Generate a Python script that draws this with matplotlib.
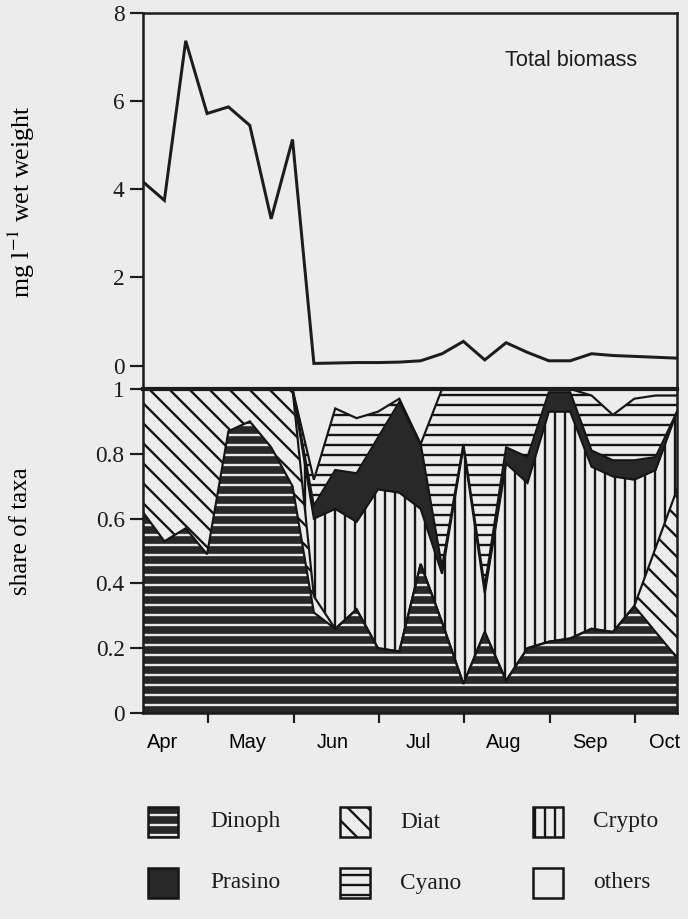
import numpy as np
import matplotlib
matplotlib.use("Agg")
import matplotlib.pyplot as plt
from matplotlib.patches import Rectangle

# ---------------- data ----------------
samples = list(range(26))  # weekly samples, April - October
biomass = [4.17, 3.75, 7.37, 5.72, 5.87, 5.45, 3.33, 5.13, 0.05, 0.06, 0.07, 0.07, 0.08,
           0.11, 0.27, 0.55, 0.13, 0.52, 0.30, 0.11, 0.11, 0.27, 0.23, 0.21, 0.19, 0.17]

dinoph  = [0.62, 0.53, 0.57, 0.49, 0.87, 0.90, 0.82, 0.70, 0.31, 0.26, 0.32, 0.20, 0.19,
           0.46, 0.28, 0.09, 0.25, 0.10, 0.20, 0.22, 0.23, 0.26, 0.25, 0.33, 0.25, 0.17]
diat    = [0.38, 0.47, 0.43, 0.51, 0.13, 0.10, 0.18, 0.30, 0.05, 0.00, 0.00, 0.00, 0.00,
           0.00, 0.00, 0.00, 0.00, 0.00, 0.00, 0.00, 0.00, 0.00, 0.00, 0.00, 0.26, 0.52]
crypto  = [0.00, 0.00, 0.00, 0.00, 0.00, 0.00, 0.00, 0.00, 0.24, 0.37, 0.27, 0.49, 0.49,
           0.17, 0.15, 0.73, 0.12, 0.67, 0.51, 0.71, 0.70, 0.50, 0.48, 0.39, 0.24, 0.24]
prasino = [0.00, 0.00, 0.00, 0.00, 0.00, 0.00, 0.00, 0.00, 0.04, 0.12, 0.15, 0.16, 0.28,
           0.20, 0.02, 0.01, 0.02, 0.05, 0.08, 0.06, 0.06, 0.05, 0.05, 0.06, 0.04, 0.00]
cyano   = [0.00, 0.00, 0.00, 0.00, 0.00, 0.00, 0.00, 0.00, 0.08, 0.19, 0.17, 0.08, 0.01,
           0.00, 0.55, 0.17, 0.61, 0.18, 0.21, 0.01, 0.01, 0.17, 0.14, 0.19, 0.19, 0.05]
others  = [0.00, 0.00, 0.00, 0.00, 0.00, 0.00, 0.00, 0.00, 0.28, 0.06, 0.09, 0.07, 0.03,
           0.17, 0.00, 0.00, 0.00, 0.00, 0.00, 0.00, 0.00, 0.02, 0.08, 0.03, 0.02, 0.02]

taxa = ["Dinoph", "Diat", "Crypto", "Prasino", "Cyano", "others"]
months = ["Apr", "May", "Jun", "Jul", "Aug", "Sep", "Oct"]
biomass_ticks = [0, 2, 4, 6, 8]
share_ticks = [0, 0.2, 0.4, 0.6, 0.8, 1]

# ---------------- style ----------------
BG = "#ececec"
DARK = "#282828"
SERIF = ["Liberation Serif", "DejaVu Serif"]
SANS = ["Liberation Sans", "DejaVu Sans"]
plt.rcParams["hatch.linewidth"] = 1.4
plt.rcParams["mathtext.fontset"] = "stix"

W, H, DPI = 688, 919, 120
fig = plt.figure(figsize=(W / DPI, H / DPI), dpi=DPI, facecolor=BG)

def fx(px):
    return px / W

def fy(py):
    return 1 - py / H

left, right = fx(143), fx(677)
ax1 = fig.add_axes([left, fy(389), right - left, fy(13) - fy(389)], facecolor=BG)
ax2 = fig.add_axes([left, fy(713), right - left, fy(389) - fy(713)], facecolor=BG, sharex=ax1)

# upper: total biomass
ax1.plot(samples, biomass, color="#1c1c1c", lw=1.8, solid_joinstyle="miter")
ax1.set_ylim(-0.53, 8)
ax1.set_xlim(samples[0], samples[-1])
ax1.set_yticks(biomass_ticks)
ax1.set_yticklabels([str(t) for t in biomass_ticks], family=SERIF, fontsize=14)
ax1.tick_params(axis="x", bottom=False, labelbottom=False)
ax1.tick_params(axis="y", direction="out", length=8, width=1.3, pad=3, colors="#1c1c1c")
ax1.text(0.925, 0.875, "Total biomass", transform=ax1.transAxes, ha="right", va="center",
         family=SANS, fontsize=13, color="#1c1c1c")

# lower: share of taxa
fills = [DARK, BG, BG, DARK, BG, BG]
hatches = ["--", "\\\\", "||", None, "--", None]
hcolors = ["#e6e6e6", "#151515", "#151515", DARK, "#151515", BG]
series = [dinoph, diat, crypto, prasino, cyano, others]
polys = ax2.stackplot(samples, *series, colors=fills, hatch=hatches, labels=taxa)
for p, hc in zip(polys, hcolors):
    p.set_edgecolor(hc)
    p.set_linewidth(0)
cum = np.cumsum(np.array(series), axis=0)
for row in cum[:-1]:
    ax2.plot(samples, row, color="#151515", lw=1.3, solid_joinstyle="miter")

ax2.set_ylim(0, 1)
ax2.set_yticks(share_ticks)
ax2.set_yticklabels([f"{t:g}" for t in share_ticks], family=SERIF, fontsize=14)
ax2.tick_params(axis="y", direction="out", length=8, width=1.3, pad=3, colors="#1c1c1c")

month_bounds = [3.05 + 4 * i for i in range(6)]
label_pos = [0.9 + 4 * i for i in range(6)] + [24.4]
ax2.set_xticks(month_bounds)
ax2.set_xticklabels([])
ax2.tick_params(axis="x", which="major", direction="out", length=6, width=1.3, colors="#1c1c1c")
ax2.set_xticks(label_pos, minor=True)
ax2.set_xticklabels(months, minor=True, family=SANS, fontsize=12)
ax2.tick_params(axis="x", which="minor", length=0, pad=12)

for ax in (ax1, ax2):
    for s in ax.spines.values():
        s.set_linewidth(1.5)
        s.set_color("#1c1c1c")
ax2.spines["top"].set_linewidth(2.5)

fig.text(fx(21), fy(202), r"mg l$^{-1}$ wet weight", rotation=90, ha="center", va="center",
         family=SERIF, fontsize=15.5)
fig.text(fx(21), fy(531), "share of taxa", rotation=90, ha="center", va="center",
         family=SERIF, fontsize=15)

# legend (manually laid out, 2 rows x 3 columns)
box_x = [148, 340, 533]
text_x = [210, 400, 593]
row_y = [822, 883]
box = 30
for i, name in enumerate(taxa):
    r, c = divmod(i, 3)
    x0, yc = box_x[c], row_y[r]
    patch = Rectangle((fx(x0), fy(yc + box / 2)), box / W, box / H, transform=fig.transFigure,
                      facecolor=fills[i], edgecolor=hcolors[i] if hatches[i] else "#151515",
                      hatch=hatches[i], linewidth=0)
    fig.add_artist(patch)
    outline = Rectangle((fx(x0), fy(yc + box / 2)), box / W, box / H, transform=fig.transFigure,
                        facecolor="none", edgecolor="#151515", linewidth=1.5)
    fig.add_artist(outline)
    fig.text(fx(text_x[c]), fy(yc), name, ha="left", va="center", family=SERIF, fontsize=14,
             color="#1c1c1c")

fig.savefig("out.png", dpi=DPI, facecolor=BG)
